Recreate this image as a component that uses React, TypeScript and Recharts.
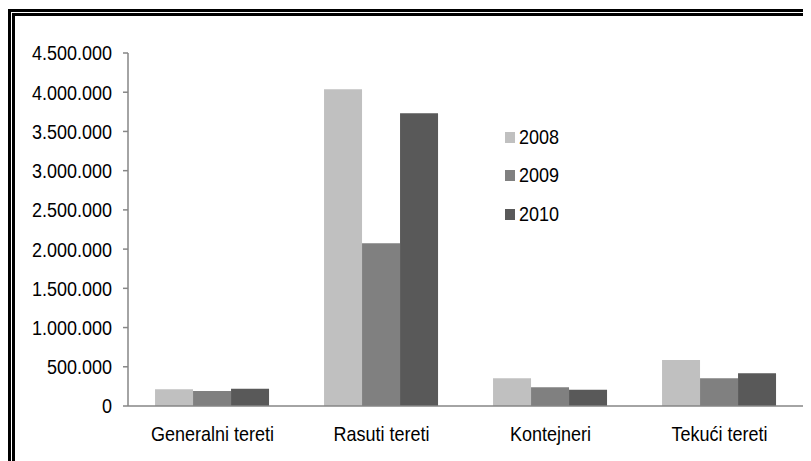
import React from "react";
import { BarChart, Bar, XAxis, YAxis } from "recharts";

const categories = ["Generalni tereti", "Rasuti tereti", "Kontejneri", "Tekući tereti"];
const series2008 = [213000, 4037000, 353000, 586000];
const series2009 = [191000, 2075000, 238000, 353000];
const series2010 = [220000, 3731000, 208000, 417000];
const yTicks = [0, 500000, 1000000, 1500000, 2000000, 2500000, 3000000, 3500000, 4000000, 4500000];
const boundaryTicks = [0, 1, 2, 3, 4];
const seriesNames = ["2008", "2009", "2010"];
const colors = ["#c0c0c0", "#808080", "#595959"];

const data = categories.map((c, i) => ({
  name: c,
  v2008: series2008[i],
  v2009: series2009[i],
  v2010: series2010[i],
}));

const FONT = "'Liberation Sans', Arial, sans-serif";
const SY = 1.15;
const fmt = (v: number) => String(v).replace(/\B(?=(\d{3})+(?!\d))/g, ".");

const YTick = (props: any) => {
  const { x, y, payload } = props;
  return (
    <g transform={`translate(${x},${y}) scale(1,${SY})`}>
      <text x={0} y={0} textAnchor="end" dominantBaseline="central" fill="#000" fontSize={18} fontFamily={FONT}>
        {fmt(payload.value)}
      </text>
    </g>
  );
};

const XTick = (props: any) => {
  const { x, y, payload } = props;
  return (
    <g transform={`translate(${x},${y}) scale(1,${SY})`}>
      <text x={0} y={0} textAnchor="middle" dominantBaseline="central" fill="#000" fontSize={18} fontFamily={FONT}>
        {payload.value}
      </text>
    </g>
  );
};

const LegendBox = () => (
  <div style={{ position: "absolute", left: 497, top: 110, fontFamily: FONT, fontSize: 18, color: "#000" }}>
    {seriesNames.map((n, i) => (
      <div key={n} style={{ display: "flex", alignItems: "center", height: 38.5 }}>
        <span style={{ display: "inline-block", width: 10, height: 11, background: colors[i], marginRight: 4 }} />
        <span style={{ display: "inline-block", transform: `scaleY(${SY})` }}>{n}</span>
      </div>
    ))}
  </div>
);

export default function App() {
  return (
    <div style={{ position: "relative", width: 803, height: 453, overflow: "hidden" }}>
      <div style={{ position: "absolute", left: 0, top: 1, width: 820, height: 470, border: "3px solid #000", boxSizing: "border-box" }} />
      <div style={{ position: "absolute", left: 4, top: 5, width: 810, height: 460, border: "3px solid #000", boxSizing: "border-box" }} />
      <div style={{ position: "absolute", left: 0, top: 0 }}>
        <BarChart
          width={803}
          height={453}
          data={data}
          margin={{ top: 45, right: 7, bottom: 25, left: 0 }}
          barCategoryGap="16%"
          barGap={0}
        >
          <XAxis
            dataKey="name"
            axisLine={{ stroke: "#868686", strokeWidth: 1.5 }}
            tickLine={false}
            tickSize={6}
            tickMargin={22}
            height={30}
            tick={<XTick />}
            interval={0}
          />
          <XAxis
            xAxisId="b"
            type="number"
            domain={[0, 4]}
            ticks={boundaryTicks}
            axisLine={false}
            tickLine={{ stroke: "#868686", strokeWidth: 1.5 }}
            tickSize={6}
            tick={() => <g />}
            height={0}
            orientation="bottom"
          />
          <YAxis
            width={120}
            domain={[0, 4500000]}
            ticks={yTicks}
            axisLine={{ stroke: "#868686", strokeWidth: 1.5 }}
            tickLine={{ stroke: "#868686", strokeWidth: 1.5 }}
            tickSize={5}
            tickMargin={11}
            tick={<YTick />}
            interval={0}
          />
          <Bar dataKey="v2008" name="2008" fill={colors[0]} isAnimationActive={false} />
          <Bar dataKey="v2009" name="2009" fill={colors[1]} isAnimationActive={false} />
          <Bar dataKey="v2010" name="2010" fill={colors[2]} isAnimationActive={false} />
        </BarChart>
      </div>
      <LegendBox />
    </div>
  );
}
